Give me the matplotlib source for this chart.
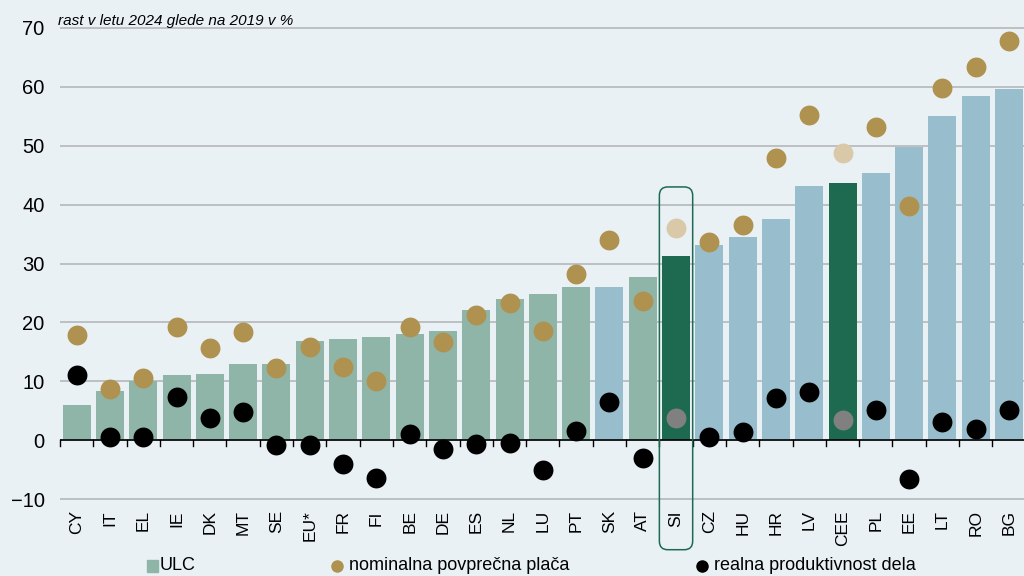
import matplotlib.pyplot as plt
import numpy as np
from matplotlib.patches import FancyBboxPatch, Rectangle
from matplotlib.lines import Line2D

plt.rcParams['font.family'] = ['Liberation Sans', 'DejaVu Sans']

# podatki
countries = ['CY', 'IT', 'EL', 'IE', 'DK', 'MT', 'SE', 'EU*', 'FR', 'FI', 'BE', 'DE', 'ES', 'NL',
             'LU', 'PT', 'SK', 'AT', 'SI', 'CZ', 'HU', 'HR', 'LV', 'CEE', 'PL', 'EE', 'LT', 'RO', 'BG']
ulc = [5.9, 8.4, 10.1, 11.1, 11.3, 12.9, 13.0, 16.9, 17.1, 17.6, 18.0, 18.5, 22.1, 23.9,
       24.9, 26.0, 26.0, 27.7, 31.2, 33.1, 34.5, 37.5, 43.2, 43.6, 45.3, 49.7, 55.1, 58.5, 59.6]
wage = [17.8, 8.7, 10.6, 19.2, 15.7, 18.3, 12.2, 15.9, 12.4, 10.1, 19.2, 16.7, 21.3, 23.3,
        18.6, 28.2, 34.0, 23.7, 36.1, 33.6, 36.6, 47.9, 55.2, 48.8, 53.1, 39.7, 59.8, 63.4, 67.8]
productivity = [11.1, 0.5, 0.5, 7.3, 3.8, 4.7, -0.9, -0.9, -4.0, -6.4, 1.1, -1.5, -0.7, -0.4,
                -5.0, 1.6, 6.4, -3.1, 3.7, 0.5, 1.4, 7.1, 8.2, 3.5, 5.2, -6.6, 3.1, 1.9, 5.1]
# skupine: 'ea' = evroobmočje (staro), 'cee' = SVE, 'agg' = poudarjeno (EU*, SI, CEE)
groups = ['ea'] * 16 + ['cee', 'ea', 'agg', 'cee', 'cee', 'cee', 'cee', 'agg', 'cee', 'cee', 'cee', 'cee', 'cee']
legend_labels = ['ULC', 'nominalna povprečna plača', 'realna produktivnost dela']

bg = '#E9F1F5'
bar_col = {'ea': '#8FB5A8', 'cee': '#98BECE', 'agg': '#1E6A50'}
gold, gold_light = '#B09250', '#D9C9A8'

fig = plt.figure(figsize=(10.24, 5.76), dpi=100, facecolor=bg)
ax = fig.add_axes([60 / 1024, 1 - 502 / 576, 1 - 60 / 1024, (502 - 25) / 576])
ax.set_facecolor(bg)

x = np.arange(len(countries))
ax.bar(x, ulc, width=0.84, color=[bar_col[g] for g in groups], zorder=2)

agg = np.array([g == 'agg' for g in groups])
wage = np.array(wage)
productivity = np.array(productivity)
ax.scatter(x[~agg], wage[~agg], s=205, color=gold, zorder=3, linewidths=0)
ax.scatter(x[agg], wage[agg], s=205, color=gold_light, zorder=3, linewidths=0)
ax.scatter(x[~agg], productivity[~agg], s=205, color='black', zorder=3, linewidths=0)
ax.scatter(x[agg], productivity[agg], s=205, color='#808080', zorder=3, linewidths=0)

ax.set_xlim(-0.5, 28.45)
ax.set_ylim(-10.5, 70.5)
ax.set_yticks(range(-10, 71, 10))
ax.set_yticklabels(['\u221210'] + [str(v) for v in range(0, 71, 10)])
ax.yaxis.grid(True, color='#B5B8BA', linewidth=1.2, zorder=0)
ax.tick_params(axis='y', length=0, labelsize=14.5, pad=11)
for s in ax.spines.values():
    s.set_visible(False)

# os x na 0
ax.axhline(0, color='black', linewidth=1.2, zorder=4)
for b in np.arange(-0.5, 28.6, 1):
    ax.plot([b, b], [0, -1.0], color='black', linewidth=1.0, zorder=4, clip_on=False)
ax.set_xticks(x)
ax.set_xticklabels([])
ax.tick_params(axis='x', length=0)
for xi, c in zip(x, countries):
    ax.text(xi, -11.9, c, rotation=90, ha='center', va='top', fontsize=12.5)

# okvir za SI
si = countries.index('SI')
box = FancyBboxPatch((si - 0.5, -18.6), 1.0, 61.6,
                     boxstyle='round,pad=0,rounding_size=0.25', mutation_aspect=5.8,
                     fill=False, edgecolor='#1E6A50', linewidth=1.1, clip_on=False, zorder=5)
ax.add_patch(box)

fig.text(58 / 1024, 1 - 21 / 576, 'rast v letu 2024 glede na 2019 v %', style='italic',
         fontsize=11, va='center', ha='left')

# legenda
ly = 1 - 566 / 576
fig.patches.append(Rectangle((147 / 1024, ly - 6 / 576), 11 / 1024, 12 / 576,
                             transform=fig.transFigure, color=bar_col['ea']))
fig.lines.append(Line2D([337 / 1024], [ly], marker='o', color=gold, markersize=8,
                        transform=fig.transFigure, linestyle='none'))
fig.lines.append(Line2D([702 / 1024], [ly], marker='o', color='black', markersize=8,
                        transform=fig.transFigure, linestyle='none'))
for lx, lab in zip([160, 349, 714], legend_labels):
    fig.text(lx / 1024, ly, lab, fontsize=13, va='center', ha='left')

fig.savefig('out.png', dpi=100, facecolor=bg)
